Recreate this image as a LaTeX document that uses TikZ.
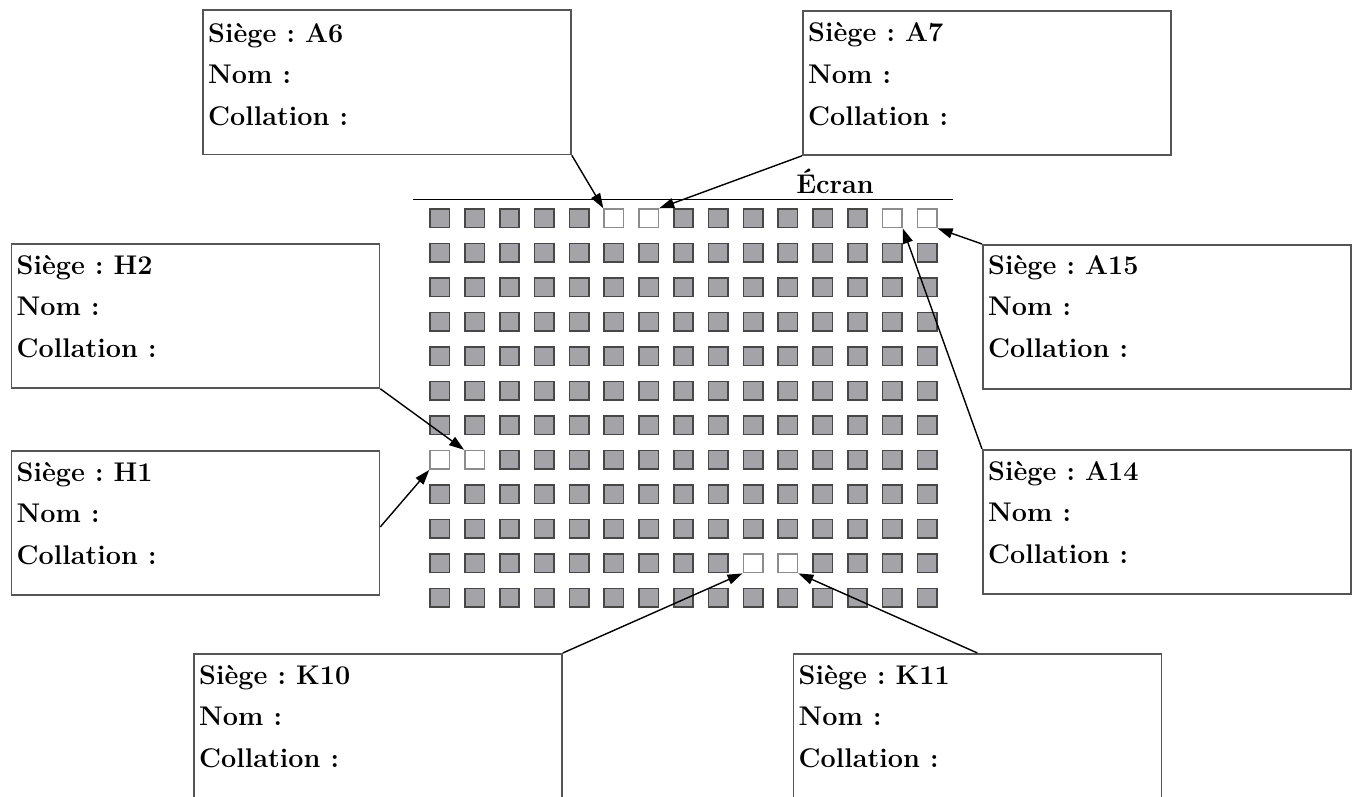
\documentclass[tikz,border=0pt]{standalone}
\usetikzlibrary{arrows.meta}
\definecolor{seatgray}{RGB}{163,163,168}
\definecolor{boxline}{RGB}{85,85,85}
\frenchspacing
\begin{document}
\begin{tikzpicture}[x=1pt,y=-1pt,
  seat/.style={draw=black!72, fill=seatgray, line width=1.6pt,
    minimum width=19.5pt, minimum height=18.5pt, inner sep=0pt, anchor=north west},
  freeseat/.style={fill=white, draw=black!45},
  sty-1-6/.style={freeseat}, sty-1-7/.style={freeseat},
  sty-1-14/.style={freeseat}, sty-1-15/.style={freeseat},
  sty-8-1/.style={freeseat}, sty-8-2/.style={freeseat},
  sty-11-10/.style={freeseat}, sty-11-11/.style={freeseat},
  infobox/.style={draw=boxline, line width=1.8pt, inner sep=0pt, anchor=north west,
    minimum width=368pt, minimum height=144pt},
  infotext/.style={font=\fontsize{27}{41.5}\selectfont\bfseries, align=left,
    anchor=base west, inner sep=0pt},
  link/.style={line width=1.4pt, -{Triangle[length=15pt,width=10pt]}}]
\useasboundingbox (0,0) rectangle (1354,797);
\fill[white] (0,0) rectangle (1354,797);

% screen
\draw[line width=1.4pt] (413,199.5) -- (953,199.5);
\node[font=\fontsize{27}{30}\selectfont\bfseries, anchor=base, inner sep=0pt] (ecran) at (835,193) {Écran};

% seats
\foreach \r in {1,...,12}{
  \foreach \c in {1,...,15}{
    \node[seat, sty-\r-\c/.try] (s-\r-\c) at ({429.3+(\c-1)*34.8},{208.3+(\r-1)*34.5}) {};
  }
}

% boxes
\node[infobox] (bA6) at (202,9.5) {};
\node[infobox] (bA7) at (802,10) {};
\node[infobox] (bH2) at (10.5,243) {};
\node[infobox] (bH1) at (10.5,450) {};
\node[infobox] (bA15) at (982,244) {};
\node[infobox] (bA14) at (982,449) {};
\node[infobox, minimum height=160pt] (bK10) at (193,653) {};
\node[infobox, minimum height=160pt] (bK11) at (792.5,653) {};

% text anchor = baseline of last line
\node[infotext] (tA6) at ([xshift=6pt,yshift=-116pt]bA6.north west) {Siège : A6\\Nom :\\Collation :};
\node[infotext] (tA7) at ([xshift=6pt,yshift=-115pt]bA7.north west) {Siège : A7\\Nom :\\Collation :};
\node[infotext] (tH2) at ([xshift=6pt,yshift=-114pt]bH2.north west) {Siège : H2\\Nom :\\Collation :};
\node[infotext] (tH1) at ([xshift=6pt,yshift=-114pt]bH1.north west) {Siège : H1\\Nom :\\Collation :};
\node[infotext] (tA15) at ([xshift=6pt,yshift=-113pt]bA15.north west) {Siège : A15\\Nom :\\Collation :};
\node[infotext] (tA14) at ([xshift=6pt,yshift=-114pt]bA14.north west) {Siège : A14\\Nom :\\Collation :};
\node[infotext] (tK10) at ([xshift=6pt,yshift=-114pt]bK10.north west) {Siège : K10\\Nom :\\Collation :};
\node[infotext] (tK11) at ([xshift=6pt,yshift=-114pt]bK11.north west) {Siège : K11\\Nom :\\Collation :};

% connectors
\draw[link] (bA6.south east) -- (s-1-6.north west);
\draw[link] (bA7.south west) -- (s-1-7.north east);
\draw[link] (bA15.north west) -- (s-1-15.south east);
\draw[link] (bA14.north west) -- (s-1-14.south east);
\draw[link] (bH2.south east) -- (s-8-2.north west);
\draw[link] ([yshift=-4pt]bH1.east) -- (s-8-1.south west);
\draw[link] (bK10.north east) -- (s-11-10.south west);
\draw[link] (bK11.north) -- (s-11-11.south east);
\end{tikzpicture}
\end{document}
